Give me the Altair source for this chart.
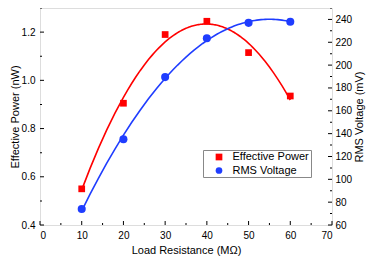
import altair as alt
import pandas as pd

# ---- data ----
resistance = [10, 20, 30, 40, 50, 60]
power = [0.55, 0.905, 1.19, 1.245, 1.115, 0.935]
voltage = [74, 135, 189.5, 223.5, 237, 238]
series_names = ["Effective Power", "RMS Voltage"]

x_major = [0, 10, 20, 30, 40, 50, 60, 70]
x_minor = [5, 15, 25, 35, 45, 55, 65]
p_major = [0.4, 0.6, 0.8, 1.0, 1.2]
p_minor = [0.5, 0.7, 0.9, 1.1, 1.3]
v_major = [60, 80, 100, 120, 140, 160, 180, 200, 220, 240]
v_minor = [70, 90, 110, 130, 150, 170, 190, 210, 230, 250]

RED = "#ff0000"
BLUE = "#1f3dff"
W, H = 292, 217
FONT = "Liberation Sans"
MAJ, MIN = 4, 2

df_p = pd.DataFrame({"x": resistance, "y": power, "series": series_names[0]})
df_v = pd.DataFrame({"x": resistance, "y": voltage, "series": series_names[1]})

xscale = alt.Scale(domain=[0, 70], nice=False, zero=False)
pscale = alt.Scale(domain=[0.4, 1.3], nice=False, zero=False)
vscale = alt.Scale(domain=[60, 250], nice=False, zero=False)

legend = alt.Legend(
    title=None, orient="none", legendX=163, legendY=142,
    fillColor="white", strokeColor="#888888", padding=1.5,
    symbolOffset=9, labelOffset=8, rowPadding=1.5,
    labelFontSize=11, labelFont=FONT, labelColor="black", symbolSize=45,
)
color = alt.Color("series:N", scale=alt.Scale(domain=series_names, range=[RED, BLUE]), legend=legend)
shape = alt.Shape("series:N", scale=alt.Scale(domain=series_names, range=["square", "circle"]), legend=legend)


def xticks(values, size):
    return alt.Chart(pd.DataFrame({"tx": values})).mark_tick(
        color="black", orient="vertical", size=size, thickness=1, opacity=1
    ).encode(x=alt.X("tx:Q", scale=xscale, axis=None), y=alt.value(H - size / 2))


def yticks(values, scale, xpos, size):
    return alt.Chart(pd.DataFrame({"ty": values})).mark_tick(
        color="black", orient="horizontal", size=size, thickness=1, opacity=1
    ).encode(y=alt.Y("ty:Q", scale=scale, axis=None), x=alt.value(xpos))


red_pts = alt.Chart(df_p).mark_point(filled=True, size=45, opacity=1).encode(
    x=alt.X("x:Q", scale=xscale, axis=alt.Axis(
        values=x_major, ticks=False, tickSize=0, domain=False, grid=False,
        labelPadding=5, title="Load Resistance (MΩ)", titlePadding=4,
        titleFontWeight="normal")),
    y=alt.Y("y:Q", scale=pscale, axis=alt.Axis(
        orient="left", values=p_major, format=".1f", ticks=False, tickSize=0,
        domain=False, grid=False, labelPadding=5, title="Effective Power (nW)",
        titlePadding=1, titleFontWeight="normal")),
    color=color, shape=shape,
)
red_line = alt.Chart(df_p).transform_regression("x", "y", method="poly", order=2).mark_line(
    color=RED, strokeWidth=1.6).encode(
    x=alt.X("x:Q", scale=xscale, axis=None), y=alt.Y("y:Q", scale=pscale, axis=None))
red_group = alt.layer(red_pts, red_line).resolve_axis(x="independent", y="independent")

blue_pts = alt.Chart(df_v).mark_point(filled=True, size=65, opacity=1).encode(
    x=alt.X("x:Q", scale=xscale, axis=None),
    y=alt.Y("y:Q", scale=vscale, axis=alt.Axis(
        orient="right", values=v_major, ticks=False, tickSize=0, domain=False,
        grid=False, labelPadding=3, title="RMS Voltage (mV)", titleAngle=270,
        titleBaseline="top", titlePadding=2, titleFontWeight="normal")),
    color=color, shape=shape,
)
blue_line = alt.Chart(df_v).transform_regression("x", "y", method="poly", order=2).mark_line(
    color=BLUE, strokeWidth=1.6).encode(
    x=alt.X("x:Q", scale=xscale, axis=None), y=alt.Y("y:Q", scale=vscale, axis=None))
blue_group = alt.layer(blue_pts, blue_line).resolve_axis(x="independent", y="independent")

left_ticks = alt.layer(yticks(p_major, pscale, MAJ / 2, MAJ), yticks(p_minor, pscale, MIN / 2, MIN))
right_ticks = alt.layer(yticks(v_major, vscale, W - MAJ / 2, MAJ), yticks(v_minor, vscale, W - MIN / 2, MIN))
bottom_ticks = alt.layer(xticks(x_major, MAJ), xticks(x_minor, MIN))

chart = alt.layer(
    red_group, blue_group, left_ticks, right_ticks, bottom_ticks
).resolve_scale(y="independent").resolve_axis(x="independent", y="independent").properties(
    width=W, height=H,
    autosize=alt.AutoSizeParams(type="none"),
    padding={"left": 32, "top": 0, "right": 35, "bottom": 35},
).configure_view(stroke="black", strokeWidth=1).configure_axis(
    labelFont=FONT, titleFont=FONT, labelFontSize=11, titleFontSize=11.5,
    labelColor="black", titleColor="black", titleFontWeight="normal",
).configure(background="white")

chart.save("out.html", embed_options={"renderer": "svg", "actions": False})
